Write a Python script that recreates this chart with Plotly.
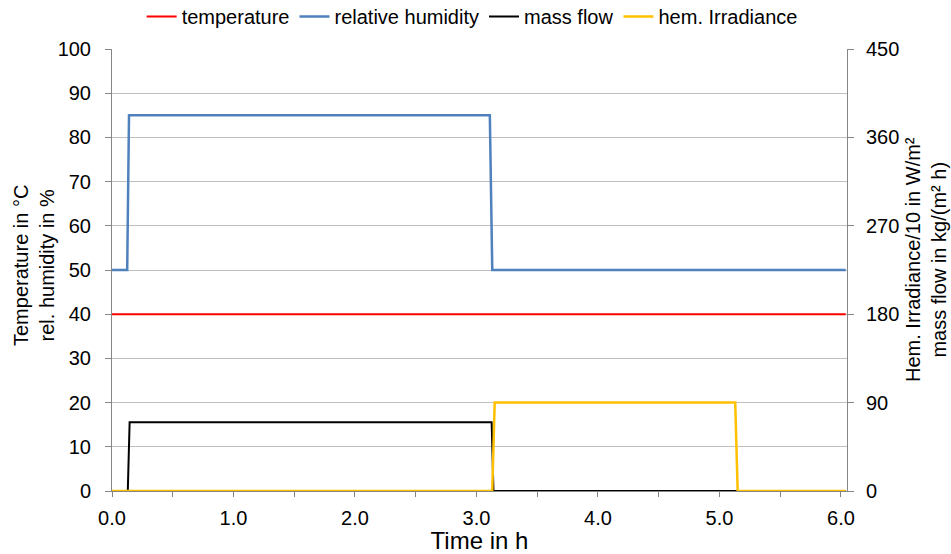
import plotly.graph_objects as go

# Data (time in h)
t_temp = [0.0, 6.04]
temperature = [40, 40]

t_rh = [0.0, 0.125, 0.14, 3.11, 3.13, 6.04]
rel_humidity = [50, 50, 85, 85, 50, 50]

t_mf = [0.0, 0.13, 0.145, 3.125, 3.14, 6.04]
mass_flow = [0, 0, 70, 70, 0, 0]

t_irr = [0.0, 3.13, 3.15, 5.13, 5.15, 6.04]
irradiance = [0, 0, 90, 90, 0, 0]

x_ticks = [0, 1, 2, 3, 4, 5, 6]
x_ticklabels = ["0.0", "1.0", "2.0", "3.0", "4.0", "5.0", "6.0"]

x_title = "Time in h"
y_title = "Temperature in °C<br>rel. humidity in %"
y2_title = "Hem. Irradiance/10 in W/m²<br>mass flow in kg/(m² h)"

font = "Liberation Sans, Arial, sans-serif"
FS = 20
W, H = 951, 554
ML, MR, MT, MB = 112, 104, 49, 63
PW, PH = W - ML - MR, H - MT - MB

fig = go.Figure()
fig.add_trace(go.Scatter(x=t_temp, y=temperature, mode="lines", name="temperature",
                         line=dict(color="#FF0000", width=2)))
fig.add_trace(go.Scatter(x=t_rh, y=rel_humidity, mode="lines", name="relative humidity",
                         line=dict(color="#4F81BD", width=2.5)))
fig.add_trace(go.Scatter(x=t_mf, y=mass_flow, mode="lines", name="mass flow",
                         line=dict(color="#000000", width=2), yaxis="y2"))
fig.add_trace(go.Scatter(x=t_irr, y=irradiance, mode="lines", name="hem. Irradiance",
                         line=dict(color="#FFC000", width=2.5), yaxis="y2"))

fig.update_layout(
    width=W, height=H,
    margin=dict(l=ML, r=MR, t=MT, b=MB, autoexpand=False),
    paper_bgcolor="white", plot_bgcolor="white",
    font=dict(family=font, size=FS, color="#000000"),
    showlegend=True,
    legend=dict(orientation="h", x=0.49, xanchor="center", y=(H - MB + 3) / PH, yanchor="top",
                yref="paper", font=dict(size=FS), itemwidth=30,
                tracegroupgap=0, bgcolor="rgba(0,0,0,0)"),
    xaxis=dict(range=[0, 6.05], tickvals=x_ticks, ticktext=x_ticklabels,
               showgrid=False, zeroline=False, showline=True, linecolor="#868686",
               linewidth=1, ticks="outside", ticklen=5, tickcolor="#868686",
               minor=dict(dtick=0.5, tick0=0, ticks="outside", ticklen=5, tickcolor="#868686",
                          showgrid=False),
               ticklabelstandoff=4,
               title=dict(text=x_title, standoff=8), tickfont=dict(size=FS)),
    yaxis=dict(range=[0, 100], dtick=10, showgrid=True, gridcolor="#BFBFBF",
               zeroline=False, showline=True, linecolor="#868686", linewidth=1,
               ticks="outside", ticklen=6, tickcolor="#868686", ticklabelstandoff=10,
               tickfont=dict(size=FS)),
    yaxis2=dict(range=[0, 450], dtick=90, overlaying="y", side="right",
                showgrid=False, zeroline=False, showline=True, linecolor="#868686",
                linewidth=1, ticks="outside", ticklen=6, tickcolor="#868686", ticklabelstandoff=8,
                tickfont=dict(size=FS)),
)

# Rotated axis titles placed as annotations (paper coords)
fig.add_annotation(text=y_title, textangle=-90, showarrow=False,
                   xref="paper", yref="paper",
                   x=(34 - ML) / PW, y=(H - MB - 266) / PH,
                   xanchor="center", yanchor="middle",
                   font=dict(size=FS, family=font, color="#000000"))
fig.add_annotation(text=y2_title, textangle=-90, showarrow=False,
                   xref="paper", yref="paper",
                   x=(926 - ML) / PW, y=(H - MB - 260) / PH,
                   xanchor="center", yanchor="middle",
                   font=dict(size=FS, family=font, color="#000000"))

fig.write_html("out.html")
